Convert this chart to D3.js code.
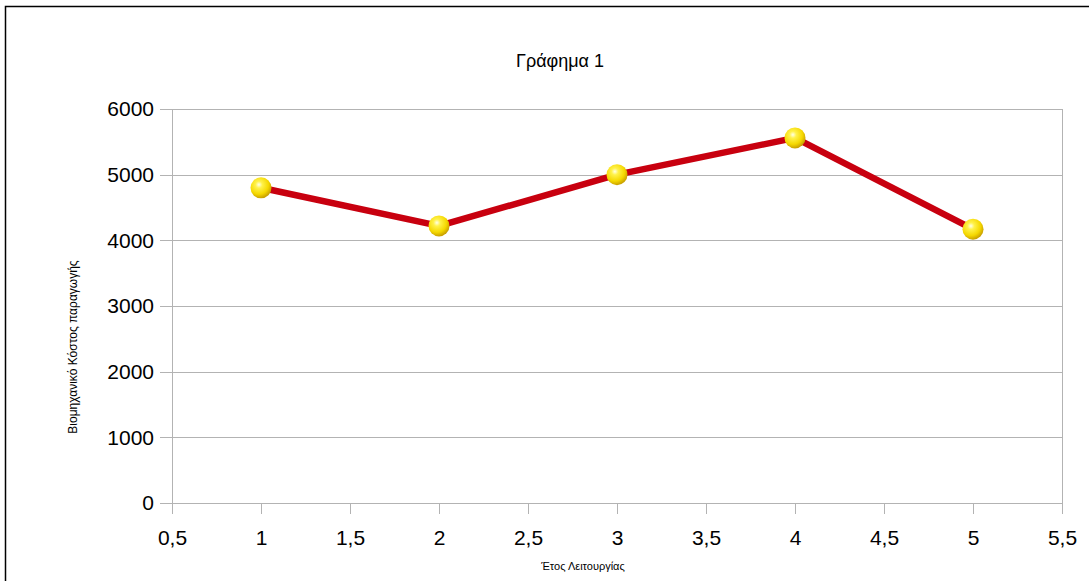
<!DOCTYPE html>
<html>
<head>
<meta charset="utf-8">
<script src="https://cdn.jsdelivr.net/npm/d3@7"></script>
<style>
  html, body { margin: 0; padding: 0; background: #fff; }
  svg { display: block; font-family: "Liberation Sans", Arial, sans-serif; }
</style>
</head>
<body>
<svg id="chart" width="1089" height="581"></svg>
<script>
// Operating year and annual production cost
const years = [1, 2, 3, 4, 5];
const costs = [4800, 4220, 5000, 5560, 4170];
const xTicks = [0.5, 1, 1.5, 2, 2.5, 3, 3.5, 4, 4.5, 5, 5.5];
const yTicks = [0, 1000, 2000, 3000, 4000, 5000, 6000];
const titleText = "Γράφημα 1";
const xLabel = "Έτος Λειτουργίας";
const yLabel = "Βιομηχανικό Κόστος παραγωγής";

const svg = d3.select("#chart");
const plotLeft = 172, plotRight = 1062, plotTop = 109, plotBottom = 503;

const x = d3.scaleLinear().domain([0.5, 5.5]).range([plotLeft, plotRight]);
const y = d3.scaleLinear().domain([0, 6000]).range([plotBottom, plotTop]);
const grid = "#b3b3b3";
const fmt = d => String(d).replace(".", ",");

// outer frame
svg.append("rect")
  .attr("x", 5.5).attr("y", 6.5).attr("width", 1100).attr("height", 600)
  .attr("fill", "none").attr("stroke", "#000").attr("stroke-width", 1.5);

// gradient for the point spheres
const defs = svg.append("defs");
const grad = defs.append("radialGradient").attr("id", "ball")
  .attr("cx", "40%").attr("cy", "35%").attr("r", "65%");
grad.append("stop").attr("offset", "0%").attr("stop-color", "#ffffe8");
grad.append("stop").attr("offset", "25%").attr("stop-color", "#fff24a");
grad.append("stop").attr("offset", "70%").attr("stop-color", "#f5d800");
grad.append("stop").attr("offset", "100%").attr("stop-color", "#c9a000");

// horizontal gridlines + y axis
const yAxis = d3.axisLeft(y).tickValues(yTicks).tickSize(plotRight - plotLeft + 12).tickPadding(6).tickFormat(d => d);
const gy = svg.append("g").attr("transform", `translate(${plotRight},0)`).call(yAxis);
gy.select(".domain").remove();
gy.selectAll(".tick line").attr("stroke", grid).attr("shape-rendering", "crispEdges");
gy.selectAll(".tick text").attr("font-size", 21).attr("fill", "#000")
  .attr("font-family", "Liberation Sans, Arial, sans-serif");

// x axis with downward ticks
const xAxis = d3.axisBottom(x).tickValues(xTicks).tickSize(11).tickPadding(16).tickFormat(fmt);
const gx = svg.append("g").attr("transform", `translate(0,${plotBottom})`).call(xAxis);
gx.select(".domain").remove();
gx.selectAll(".tick line").attr("stroke", grid).attr("shape-rendering", "crispEdges");
gx.selectAll(".tick text").attr("font-size", 21).attr("fill", "#000")
  .attr("font-family", "Liberation Sans, Arial, sans-serif");

// plot frame: left and right vertical edges
svg.append("line").attr("x1", plotLeft).attr("x2", plotLeft).attr("y1", plotTop).attr("y2", plotBottom + 11)
  .attr("stroke", grid).attr("shape-rendering", "crispEdges");
svg.append("line").attr("x1", plotRight).attr("x2", plotRight).attr("y1", plotTop).attr("y2", plotBottom + 11)
  .attr("stroke", grid).attr("shape-rendering", "crispEdges");

// data line
const line = d3.line().x((d, i) => x(years[i])).y(d => y(d));
svg.append("path").datum(costs)
  .attr("d", line).attr("fill", "none")
  .attr("stroke", "#c8000f").attr("stroke-width", 6.5)
  .attr("stroke-linejoin", "round");

// points
svg.selectAll("circle.pt").data(costs).enter().append("circle")
  .attr("class", "pt")
  .attr("cx", (d, i) => x(years[i])).attr("cy", d => y(d))
  .attr("r", 10.5).attr("fill", "url(#ball)");

// titles
svg.append("text").attr("x", 560).attr("y", 67).attr("text-anchor", "middle")
  .attr("font-size", 18).text(titleText);
svg.append("text").attr("x", 583).attr("y", 570).attr("text-anchor", "middle")
  .attr("font-size", 11).text(xLabel);
svg.append("text").attr("transform", "translate(77,347) rotate(-90)")
  .attr("text-anchor", "middle").attr("font-size", 12).text(yLabel);
</script>
</body>
</html>
